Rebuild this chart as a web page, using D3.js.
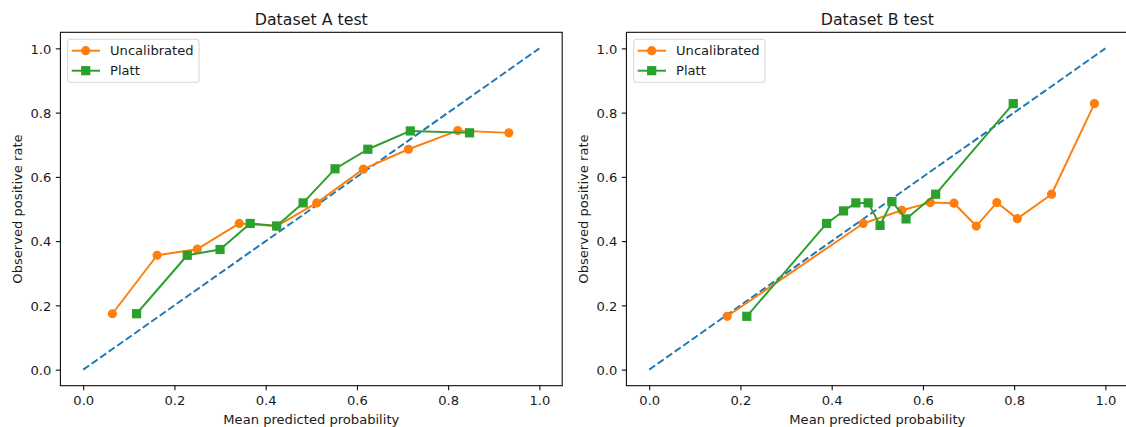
<!DOCTYPE html>
<html>
<head>
<meta charset="utf-8">
<script src="https://cdn.jsdelivr.net/npm/d3@7/dist/d3.min.js"></script>
<style>
  html, body { margin: 0; padding: 0; background: #fff; }
  svg { display: block; }
  text { font-family: "DejaVu Sans", sans-serif; fill: #1a1a1a; }
</style>
</head>
<body>
<svg id="chart" width="1126" height="427"></svg>
<script>
// Reliability curves: mean predicted probability vs observed positive rate
const panelTitles = ["Dataset A test", "Dataset B test"];
const seriesNames = ["Uncalibrated", "Platt"];
const tickValues = [0, 0.2, 0.4, 0.6, 0.8, 1.0];

// Dataset A
const aUncalX = [0.064, 0.162, 0.250, 0.342, 0.424, 0.512, 0.614, 0.713, 0.821, 0.933];
const aUncalY = [0.174, 0.356, 0.375, 0.455, 0.447, 0.519, 0.624, 0.686, 0.744, 0.737];
const aPlattX = [0.117, 0.228, 0.300, 0.366, 0.424, 0.482, 0.552, 0.624, 0.717, 0.847];
const aPlattY = [0.174, 0.356, 0.374, 0.455, 0.447, 0.519, 0.625, 0.686, 0.743, 0.737];

// Dataset B
const bUncalX = [0.171, 0.469, 0.554, 0.616, 0.668, 0.717, 0.762, 0.807, 0.882, 0.976];
const bUncalY = [0.166, 0.455, 0.496, 0.520, 0.518, 0.447, 0.520, 0.470, 0.546, 0.828];
const bPlattX = [0.214, 0.389, 0.426, 0.453, 0.480, 0.506, 0.532, 0.563, 0.628, 0.798];
const bPlattY = [0.166, 0.455, 0.494, 0.519, 0.519, 0.449, 0.523, 0.469, 0.546, 0.828];

const panels = [
  { title: panelTitles[0], offset: 0,   uncal: d3.zip(aUncalX, aUncalY), platt: d3.zip(aPlattX, aPlattY) },
  { title: panelTitles[1], offset: 566, uncal: d3.zip(bUncalX, bUncalY), platt: d3.zip(bPlattX, bPlattY) }
];

const ORANGE = "#ff7f0e", GREEN = "#2ca02c", BLUE = "#1f77b4";
const FS = 13.1, TITLE_FS = 15.8, LW = 1.96, TICK = 4.6;

const svg = d3.select("#chart");

panels.forEach(p => {
  const left = 60.4 + p.offset, right = 562.2 + p.offset;
  const top = 32.3, bottom = 385.7;
  const x = d3.scaleLinear().domain([-0.05, 1.05]).range([left, right]);
  const y = d3.scaleLinear().domain([-0.05, 1.05]).range([bottom, top]);

  const g = svg.append("g");

  // Clip for plot area
  const clipId = "clip" + p.offset;
  g.append("clipPath").attr("id", clipId)
    .append("rect").attr("x", left).attr("y", top)
    .attr("width", right - left).attr("height", bottom - top);

  const plot = g.append("g").attr("clip-path", `url(#${clipId})`);

  // Perfect calibration reference
  plot.append("line")
    .attr("x1", x(0)).attr("y1", y(0)).attr("x2", x(1)).attr("y2", y(1))
    .attr("stroke", BLUE).attr("stroke-width", LW)
    .attr("stroke-dasharray", "7.3,3.1");

  const line = d3.line().x(d => x(d[0])).y(d => y(d[1]));

  // Uncalibrated
  plot.append("path").datum(p.uncal).attr("d", line)
    .attr("fill", "none").attr("stroke", ORANGE).attr("stroke-width", LW)
    .attr("stroke-linejoin", "round");
  plot.selectAll("circle.u").data(p.uncal).join("circle")
    .attr("class", "u")
    .attr("cx", d => x(d[0])).attr("cy", d => y(d[1])).attr("r", 3.95)
    .attr("fill", ORANGE).attr("stroke", ORANGE).attr("stroke-width", 1.3);

  // Platt
  plot.append("path").datum(p.platt).attr("d", line)
    .attr("fill", "none").attr("stroke", GREEN).attr("stroke-width", LW)
    .attr("stroke-linejoin", "round");
  const S = 7.9;
  plot.selectAll("rect.p").data(p.platt).join("rect")
    .attr("class", "p")
    .attr("x", d => x(d[0]) - S / 2).attr("y", d => y(d[1]) - S / 2)
    .attr("width", S).attr("height", S)
    .attr("fill", GREEN).attr("stroke", GREEN).attr("stroke-width", 1.3);

  // Axes
  const xAxis = d3.axisBottom(x).tickValues(tickValues).tickFormat(d3.format(".1f"))
    .tickSize(TICK).tickPadding(6.5);
  const gx = g.append("g").attr("transform", `translate(0,${bottom})`).call(xAxis);
  gx.select(".domain").remove();
  gx.selectAll("line").attr("stroke", "#000").attr("stroke-width", 1.05);
  gx.selectAll("text").attr("font-size", FS).attr("font-family", "DejaVu Sans")
    .attr("fill", "#1a1a1a").attr("dy", "0.71em").attr("y", TICK + 5.5);

  const yAxis = d3.axisLeft(y).tickValues(tickValues).tickFormat(d3.format(".1f"))
    .tickSize(TICK).tickPadding(4.6);
  const gy = g.append("g").attr("transform", `translate(${left},0)`).call(yAxis);
  gy.select(".domain").remove();
  gy.selectAll("line").attr("stroke", "#000").attr("stroke-width", 1.05);
  gy.selectAll("text").attr("font-size", FS).attr("font-family", "DejaVu Sans")
    .attr("fill", "#1a1a1a").attr("dy", "0.36em");

  // Frame
  g.append("rect").attr("x", left).attr("y", top)
    .attr("width", right - left).attr("height", bottom - top)
    .attr("fill", "none").attr("stroke", "#000").attr("stroke-width", 1.05);

  // Titles and axis labels
  g.append("text").attr("x", (left + right) / 2).attr("y", 25)
    .attr("text-anchor", "middle").attr("font-size", TITLE_FS).text(p.title);
  g.append("text").attr("x", (left + right) / 2).attr("y", 424)
    .attr("text-anchor", "middle").attr("font-size", FS).text("Mean predicted probability");
  g.append("text")
    .attr("transform", `translate(${21.5 + p.offset},${(top + bottom) / 2}) rotate(-90)`)
    .attr("text-anchor", "middle").attr("font-size", FS).text("Observed positive rate");

  // Legend
  const lg = g.append("g").attr("transform", `translate(${67.7 + p.offset},39.3)`);
  lg.append("rect").attr("width", 131.3).attr("height", 43).attr("rx", 2.6)
    .attr("fill", "#fff").attr("fill-opacity", 0.8)
    .attr("stroke", "#d6d6d6").attr("stroke-width", 1.05);
  const rows = [
    { name: seriesNames[0], color: ORANGE, shape: "circle" },
    { name: seriesNames[1], color: GREEN, shape: "square" }
  ];
  rows.forEach((r, i) => {
    const cy = 11.4 + i * 20;
    lg.append("line").attr("x1", 4).attr("x2", 32.3).attr("y1", cy).attr("y2", cy)
      .attr("stroke", r.color).attr("stroke-width", LW);
    if (r.shape === "circle") {
      lg.append("circle").attr("cx", 18).attr("cy", cy).attr("r", 3.95)
        .attr("fill", r.color).attr("stroke", r.color).attr("stroke-width", 1.3);
    } else {
      lg.append("rect").attr("x", 18 - S / 2).attr("y", cy - S / 2).attr("width", S).attr("height", S)
        .attr("fill", r.color).attr("stroke", r.color).attr("stroke-width", 1.3);
    }
    lg.append("text").attr("x", 42.3).attr("y", cy).attr("dy", "0.36em")
      .attr("font-size", FS).text(r.name);
  });
});
</script>
</body>
</html>
